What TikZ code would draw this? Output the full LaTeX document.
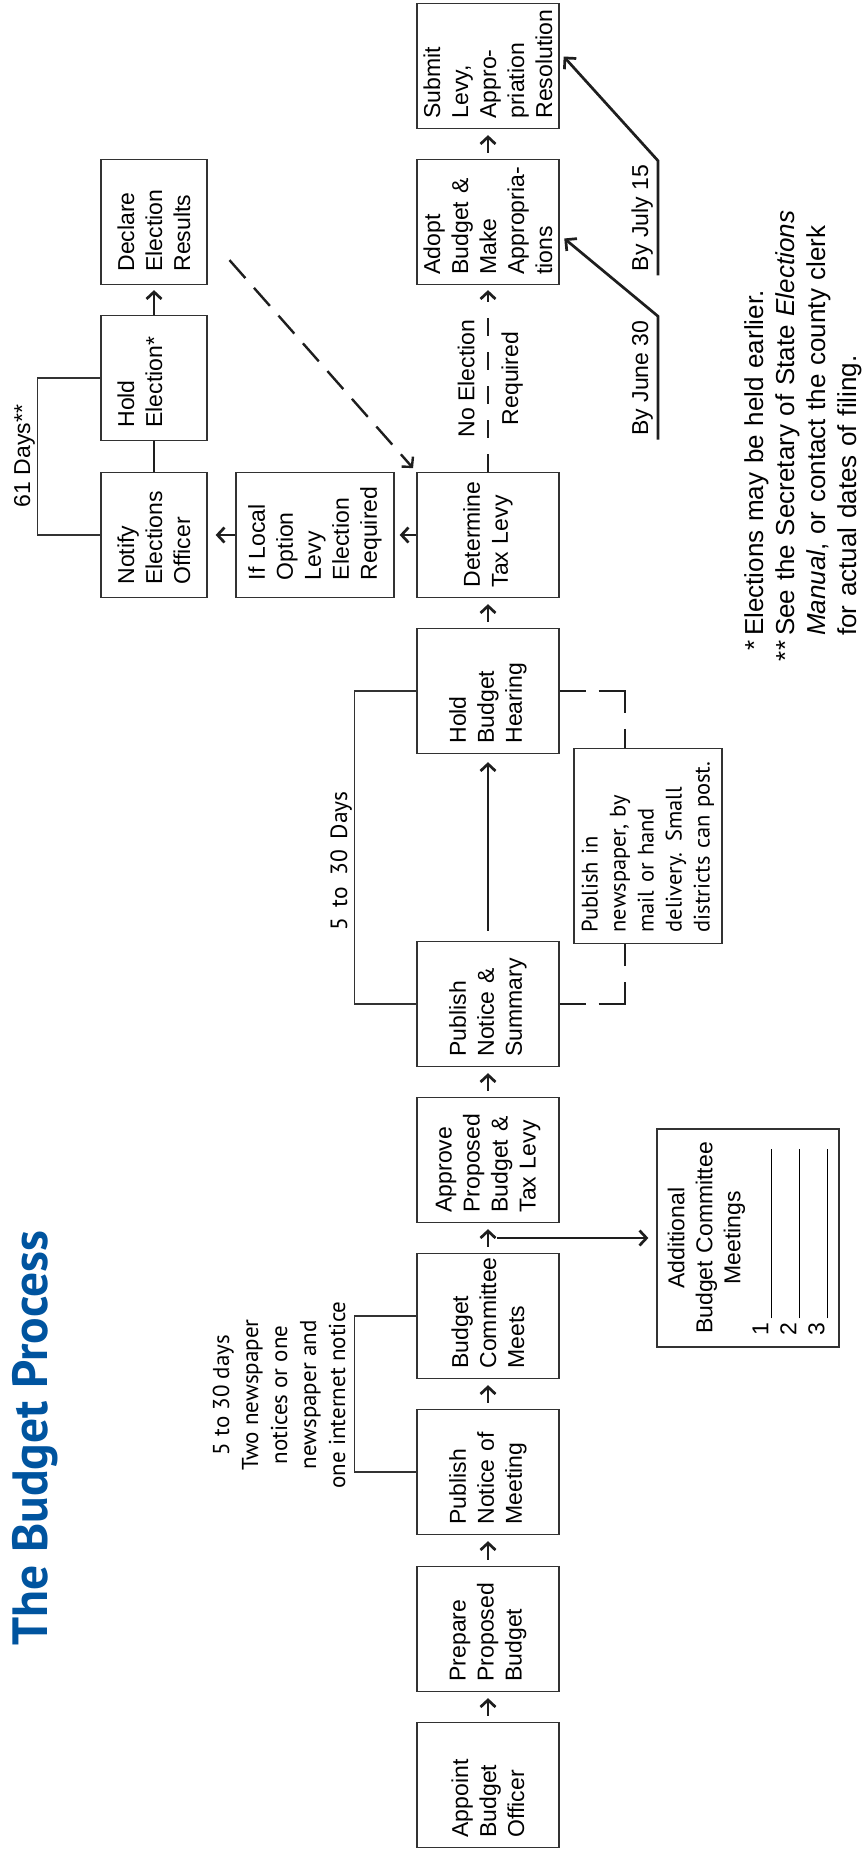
\documentclass[tikz,border=0pt]{standalone}
\usepackage{fontspec}
\setmainfont{Liberation Sans}
\newfontfamily\myriad{PT Sans}
\usetikzlibrary{arrows.meta}
\usetikzlibrary{calc}

\definecolor{titleblue}{RGB}{0,84,159}
\definecolor{boxgray}{RGB}{50,50,50}
\definecolor{inkblack}{RGB}{30,30,30}

\newcommand{\boxfont}{\fontsize{23}{28}\selectfont}
\newcommand{\notefont}{\myriad\fontsize{22.5}{28}\selectfont}
\newcommand{\widewords}{\spaceskip 11pt\relax}
\newcommand{\blankline}{\rule[-4pt]{169pt}{1.6pt}}
\setlength{\parindent}{0pt}
\hyphenpenalty=10000
\exhyphenpenalty=10000

\begin{document}
\begin{tikzpicture}[x=1pt, y=-1pt,
    stepbox/.style={draw=boxgray, line width=1.3pt, rotate=90, minimum width=125pt,
        minimum height=142pt, text width=105pt, align=left, inner sep=0pt, font=\boxfont},
    elecbox/.style={stepbox, minimum height=106pt, text width=99pt},
    ifbox/.style={stepbox, minimum height=158pt, text width=90pt},
    notebox/.style={stepbox, minimum width=195pt, minimum height=148pt, text width=173pt, font=\notefont},
    addbox/.style={draw=boxgray, line width=1.3pt, rotate=90, minimum width=218pt,
        minimum height=182pt, text width=194pt, inner sep=0pt, font=\boxfont},
    headline/.style={rotate=90, inner sep=0pt, text=titleblue, font=\myriad\bfseries\fontsize{49.5}{52}\selectfont},
    daysnote/.style={rotate=90, inner sep=0pt, align=center, font=\myriad\fontsize{23}{29}\selectfont},
    dayslabel/.style={rotate=90, inner sep=0pt, font=\myriad\fontsize{23.5}{28}\selectfont\widewords},
    sidetext/.style={rotate=90, inner sep=0pt, font=\boxfont},
    footnotes/.style={rotate=90, inner sep=0pt, text width=450pt, align=left, font=\fontsize{26}{31}\selectfont},
    flow/.style={draw=inkblack, line width=2.7pt, -{Straight Barb[length=7pt,width=15pt]}, shorten <=6pt, shorten >=6pt},
    joinline/.style={draw=inkblack, line width=2.7pt},
    bracket/.style={draw=boxgray, line width=1.3pt},
    notedash/.style={draw=inkblack, line width=2.5pt, dash pattern=on 26pt off 13pt on 48pt off 16pt},
    dateline/.style={draw=inkblack, line width=2.7pt, -{Straight Barb[length=8pt,width=16pt]}, shorten >=6pt}]

    \fill[white] (0,0) rectangle (863,1849);
    \useasboundingbox (0,0) rectangle (863,1849);

    \node[headline, anchor=base] (title) at (47,1438) {The Budget Process};

    % main column
    \node[stepbox] (appoint) at (488,1785) {Appoint\\Budget\\Officer};
    \node[stepbox] (prepare) at (488,1629) {Prepare\\Proposed\\Budget};
    \node[stepbox] (pubmeet) at (488,1472) {Publish\\Notice of\\Meeting};
    \node[stepbox] (meets) at (488,1316) {Budget\\Committee\\Meets};
    \node[stepbox] (approve) at (488,1160) {Approve\\Proposed\\Budget \&\\Tax Levy};
    \node[stepbox] (pubsum) at (488,1004) {Publish\\Notice \&\\Summary};
    \node[stepbox] (hearing) at (488,691) {Hold\\Budget\\Hearing};
    \node[stepbox] (levy) at (488,535) {Determine\\Tax Levy};
    \node[stepbox] (adopt) at (488,222) {Adopt\\Budget \&\\Make\\Appropria-\\tions};
    \node[stepbox] (submit) at (488,66) {Submit\\Levy,\\Appro-\\priation\\Resolution};

    % election column
    \node[ifbox] (iflocal) at (315,535) {If Local\\Option\\Levy\\Election\\Required};
    \node[elecbox] (notify) at (154,535) {Notify\\Elections\\Officer};
    \node[elecbox] (holdel) at (154,378) {Hold\\Election*\\\vphantom{Results}};
    \node[elecbox] (declare) at (154,222) {Declare\\Election\\Results};

    \node[notebox] (note) at (648,846) {Publish in\\newspaper, by\\mail or hand\\delivery. Small\\districts can post.};
    \node[addbox] (additional) at (748,1238) {{\centering Additional\\Budget Committee\\Meetings\par}
        1\,\blankline\\2\,\blankline\\3\,\blankline};

    \node[daysnote] (meetdays) at (279,1395) {5 to 30 days\\Two newspaper\\notices or one\\newspaper and\\one internet notice};
    \node[dayslabel, anchor=base] (hearingdays) at (347,861) {5 to 30 Days};
    \node[sidetext, anchor=base] (electiondays) at (30,456) {61 Days**};
    \node[sidetext, anchor=south, inner xsep=4pt, inner ysep=5pt] (june) at (658,378) {By June 30};
    \node[sidetext, anchor=south, inner xsep=4pt, inner ysep=5pt] (july) at (658,218) {By July 15};
    \node[footnotes, anchor=north west] (notes) at (744,636) {\leavevmode\llap{*\,}Elections may be held earlier.\\
        \leavevmode\llap{**\hspace{5pt}}See the Secretary of State \textit{Elections}\\
        \textit{Manual}, or contact the county clerk\\
        for actual dates of filing.};

    % connectors
    \draw[flow] (appoint.east) -- (prepare.west);
    \draw[flow] (prepare.east) -- (pubmeet.west);
    \draw[flow] (pubmeet.east) -- (meets.west);
    \draw[flow] (meets.east) -- (approve.west);
    \draw[flow] (approve.east) -- (pubsum.west);
    \draw[flow, shorten <=10pt, shorten >=8pt] (pubsum.east) -- (hearing.west);
    \draw[flow] (hearing.east) -- (levy.west);
    \draw[flow, shorten <=0pt, shorten >=5pt, dash pattern=on 18pt off 16pt] (levy.east)
        -- node[sidetext, above, inner sep=12pt] (noelec) {No Election}
           node[sidetext, below, inner sep=12pt] (required) {Required} (adopt.west);
    \draw[flow] (adopt.east) -- (submit.west);

    \draw[flow, shorten <=0pt, shorten >=5pt] (levy.north) -- (iflocal.south);
    \draw[flow, shorten <=0pt, shorten >=8pt] (iflocal.north) -- (notify.south);
    \draw[joinline] (notify.east) -- (holdel.west);
    \draw[flow, shorten <=0pt, shorten >=5pt] (holdel.east) -- (declare.west);
    \draw[flow, line width=2.4pt, shorten <=33pt, shorten >=5pt, dash pattern=on 24pt off 13pt] (declare.-104) -- (levy.north east);

    \coordinate (split) at ($(meets.east)!0.5!(approve.west)+(9,0)$);
    \draw[flow, shorten <=0pt, shorten >=8pt] (split) -- (additional.north);

    % day brackets
    \draw[bracket] (pubmeet.north) -- ++(-62,0) |- (meets.north);
    \draw[bracket] (pubsum.north) -- ++(-62,0) |- (hearing.north);
    \draw[bracket] (notify.north) -- ++(-63,0) |- (holdel.north);

    \coordinate (notelow) at ($(note.north west)!0.345!(note.south west)$);
    \coordinate (notehigh) at ($(note.north east)!0.345!(note.south east)$);
    \draw[notedash] (pubsum.south) -| (notelow);
    \draw[notedash] (hearing.south) -| (notehigh);

    \draw[dateline] (june.south west) -- (june.south east) -- (adopt.-100);
    \draw[dateline] (july.south west) -- (july.south east) -- (submit.-79);
\end{tikzpicture}
\end{document}
